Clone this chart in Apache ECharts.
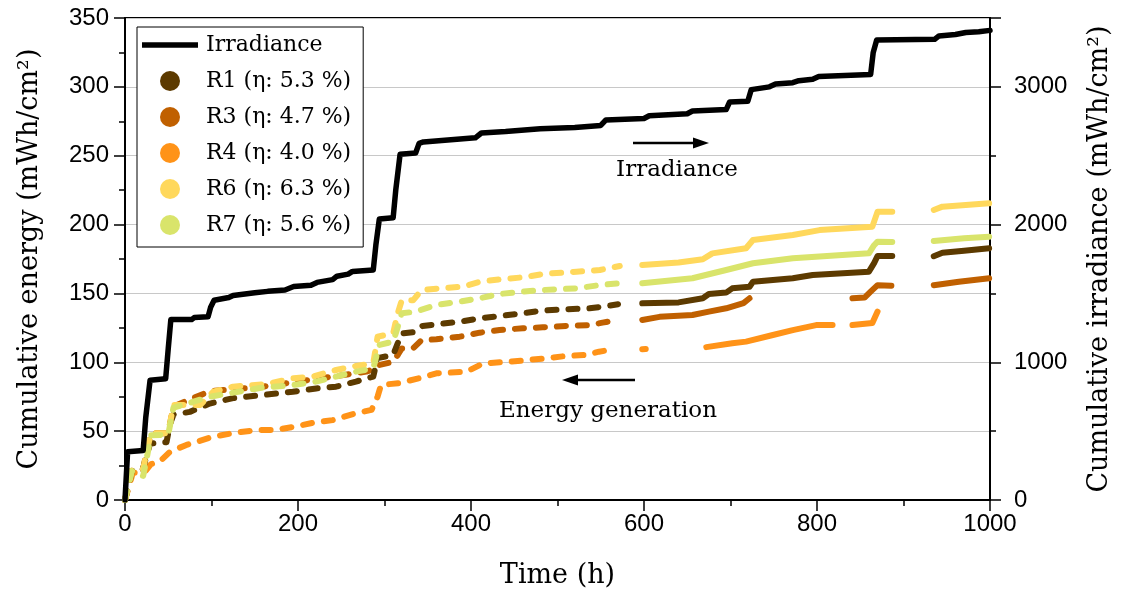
<!DOCTYPE html>
<html><head><meta charset="utf-8">
<script src="https://cdn.jsdelivr.net/npm/echarts@6/dist/echarts.min.js"></script>
<style>html,body{margin:0;padding:0;background:#fff}#c{width:1121px;height:600px}</style>
</head><body><div id="c"></div><script>
// ---------- DATA (time h, value) ; '-' marks a gap in the record ----------
const xTicks = [0, 200, 400, 600, 800, 1000];
const names = {
  irr: 'Irradiance',
  r1: 'R1 (η: 5.3 %)', r3: 'R3 (η: 4.7 %)', r4: 'R4 (η: 4.0 %)',
  r6: 'R6 (η: 6.3 %)', r7: 'R7 (η: 5.6 %)'
};
// cumulative irradiance, mWh/cm² (right axis)
const irradiance = [[0,0],[3,350],[21,360],[24,600],[29,870],[47,880],[50,1100],[53,1310],[77,1310],[80,1325],[96,1330],[99,1400],[103,1450],[120,1470],[125,1485],[150,1505],[165,1515],[185,1525],[195,1550],[215,1560],[222,1580],[240,1600],[245,1625],[258,1640],[263,1660],[287,1670],[290,1850],[294,2040],[310,2050],[313,2250],[318,2510],[336,2520],[340,2590],[345,2600],[405,2630],[412,2665],[440,2675],[480,2695],[520,2705],[550,2720],[556,2760],[600,2770],[606,2790],[650,2805],[656,2825],[695,2835],[699,2890],[720,2895],[724,2980],[745,3000],[752,3020],[772,3030],[779,3045],[795,3055],[802,3075],[862,3090],[865,3250],[869,3340],[936,3345],[941,3370],[960,3380],[972,3395],[987,3400],[1000,3410]];
// cumulative energy, mWh/cm² (left axis)
const r1 = [[0,0],[4,10],[8,21],[20,21],[24,30],[29,41],[48,42],[52,55],[56,62],[75,64],[98,70],[125,74],[156,76],[194,78.6],[221,81],[244,82.3],[267,86],[287,89.6],[292,103],[310,105.3],[316,115],[320,121],[335,122],[344,126.4],[364,127.8],[387,129.5],[410,131.9],[433,133.6],[460,135.6],[483,137.5],[510,138.5],[537,139.2],[552,140.4],[570,142.1],[585,'-'],[598,142.8],[640,143.5],[668,146.5],[675,149.6],[695,150.6],[702,153.7],[722,154.9],[726,158.5],[772,161],[795,163.4],[860,165.8],[866,172],[870,177.2],[887,177.2],[910,'-'],[935,177],[945,179.6],[970,181],[999,182.8]];
const r3 = [[0,0],[8,22],[21,22.5],[25,35],[30,48.5],[50,48.5],[56,68],[98,79],[156,82],[200,86],[267,92],[279,93.2],[287,95],[294,98],[310,100.4],[316,106],[320,110.1],[333,110.1],[343,116.2],[360,116.7],[387,118.6],[410,121.5],[433,123.4],[460,124.7],[483,125.4],[510,126.4],[537,127],[552,128.8],[571,130.7],[585,'-'],[598,130.7],[618,133],[656,134.3],[675,136.8],[695,139.2],[715,143],[722,146.5],[780,'-'],[841,146.5],[855,147],[862,151.3],[870,156],[886,155.6],[910,'-'],[935,156],[964,158.5],[999,161]];
const r4 = [[0,0],[9,19.6],[23,20.6],[30,26],[40,27.8],[52,35],[71,40],[102,46],[125,48.6],[152,50.8],[173,50.8],[194,53],[217,56],[240,58],[267,63],[285,65.4],[292,75],[296,83.5],[318,85],[341,88.6],[360,92],[395,93.2],[414,99.2],[445,100.4],[487,102.9],[510,104.6],[533,105.3],[548,107.7],[560,109],[585,'-'],[598,109.4],[602,109.6],[640,'-'],[672,111],[702,113.8],[718,115],[749,119.8],[772,123.4],[799,127],[818,127],[830,'-'],[841,127],[864,128.5],[870,136.8]];
const r6 = [[0,0],[8,22],[21,22.5],[25,35],[30,48.5],[50,48.5],[56,69],[87,69],[102,78.6],[125,82.3],[164,84.2],[194,88.4],[217,89.6],[244,94.4],[267,97.3],[287,99.2],[292,118.6],[310,121],[315,135],[320,145],[333,145],[343,152.5],[364,153.7],[391,155],[410,158.5],[433,160.2],[460,161.7],[483,164.1],[522,165.8],[549,167],[572,169.9],[585,'-'],[598,170.6],[640,172.5],[668,174.8],[679,179.1],[718,182.8],[726,188.8],[772,192.4],[803,196],[864,198.5],[870,209.4],[887,209.4],[910,'-'],[935,210.6],[945,213],[999,215.4]];
const r7 = [[0,0],[8,21],[15,18],[21,17.5],[25,30],[30,47],[50,47.5],[56,67],[98,75],[156,81.3],[194,83.5],[221,86],[244,89.6],[267,93.2],[287,95.6],[294,112.6],[310,115],[315,125],[320,135.6],[335,136.7],[360,141.6],[387,144],[410,146.5],[433,149.6],[460,151.3],[483,152.5],[522,153.7],[548,156],[572,157.4],[585,'-'],[598,157.4],[656,161],[695,167],[726,171.9],[772,175.5],[860,179.1],[866,185],[870,187.6],[887,187.4],[910,'-'],[935,188],[970,190],[999,191.2]];

// ---------- STYLE ----------
const colors = { r1:'#5c3a00', r3:'#c06000', r4:'#ff9318', r6:'#ffd85c', r7:'#d9e46b' };
const DASH_END = 585; // record before this time is drawn as the dotted/dashed daily segments
const SANS = 'Liberation Sans', SERIF = 'DejaVu Serif';

function part(arr, early) {
  return arr.filter(p => early ? p[0] <= DASH_END : p[0] >= DASH_END);
}
function rSeries(key, arr) {
  const base = { type:'line', name:names[key], showSymbol:false, symbol:'circle', silent:true,
    color: colors[key], animation:false };
  return [
    Object.assign({}, base, { data: part(arr, true),
      lineStyle:{ color:colors[key], width:6, type:[9,12], cap:'round', join:'round' } }),
    Object.assign({}, base, { data: part(arr, false),
      lineStyle:{ color:colors[key], width:6, cap:'round', join:'round' } })
  ];
}

const chart = echarts.init(document.getElementById('c'), null, { renderer:'canvas' });
const option = {
  animation:false,
  backgroundColor:'#fff',
  grid:{ left:125, right:130, top:18, bottom:100, show:true, borderColor:'#000', borderWidth:2, backgroundColor:'transparent' },
  legend:{
    left:137, top:27, orient:'vertical',
    backgroundColor:'#fff', borderColor:'#000', borderWidth:1,
    padding:[7,12,11,5], itemGap:14, itemWidth:56, itemHeight:20,
    textStyle:{ fontFamily:SERIF, fontSize:22, color:'#000', lineHeight:20, padding:[0,0,0,3] },
    data:[
      { name:names.irr, icon:'path://M0,0L56,0L56,5.5L0,5.5Z' },
      { name:names.r1, icon:'circle' }, { name:names.r3, icon:'circle' },
      { name:names.r4, icon:'circle' }, { name:names.r6, icon:'circle' },
      { name:names.r7, icon:'circle' }
    ]
  },
  xAxis:{
    type:'value', min:0, max:1000, interval:200,
    name:'Time (h)', nameLocation:'middle', nameGap:62,
    nameTextStyle:{ fontFamily:SERIF, fontSize:27, color:'#000' },
    axisLine:{ lineStyle:{ color:'#000', width:2 } },
    axisTick:{ length:11, lineStyle:{ color:'#000', width:1.5 } },
    minorTick:{ show:true, splitNumber:2, length:6, lineStyle:{ color:'#000', width:1.5 } },
    axisLabel:{ fontFamily:SANS, fontSize:24, color:'#000', margin:12, formatter: v => String(v) },
    splitLine:{ show:false }
  },
  yAxis:[{
    type:'value', min:0, max:350, interval:50,
    name:'Cumulative energy (mWh/cm²)', nameLocation:'middle', nameGap:82,
    nameTextStyle:{ fontFamily:SERIF, fontSize:27, color:'#000' },
    axisLine:{ show:true, lineStyle:{ color:'#000', width:2 } },
    axisTick:{ show:true, length:11, lineStyle:{ color:'#000', width:1.5 } },
    minorTick:{ show:true, splitNumber:2, length:6, lineStyle:{ color:'#000', width:1.5 } },
    axisLabel:{ fontFamily:SANS, fontSize:24, color:'#000', margin:16, formatter: v => String(v) },
    splitLine:{ show:true, lineStyle:{ color:'#c8c8c8', width:1.2 } }
  },{
    type:'value', min:0, max:3500, interval:1000, position:'right',
    name:'Cumulative irradiance (mWh/cm²)', nameLocation:'middle', nameGap:96,
    nameTextStyle:{ fontFamily:SERIF, fontSize:27, color:'#000' },
    axisLine:{ show:true, lineStyle:{ color:'#000', width:2 } },
    axisTick:{ show:true, length:11, lineStyle:{ color:'#000', width:1.5 } },
    minorTick:{ show:true, splitNumber:2, length:6, lineStyle:{ color:'#000', width:1.5 } },
    axisLabel:{ fontFamily:SANS, fontSize:24, color:'#000', margin:24, showMaxLabel:false,
      formatter: v => (v % 1000 === 0 ? String(v) : '') },
    splitLine:{ show:false }
  }],
  graphic:[
    { type:'line', shape:{ x1:633, y1:143, x2:697, y2:143 }, style:{ stroke:'#000', lineWidth:2.5 } },
    { type:'polygon', shape:{ points:[[709,143],[693,137.5],[693,148.5]] }, style:{ fill:'#000' } },
    { type:'text', x:677, y:170, style:{ text:'Irradiance', font:'23px "DejaVu Serif"', fill:'#000', align:'center', verticalAlign:'middle' } },
    { type:'line', shape:{ x1:574, y1:380, x2:635, y2:380 }, style:{ stroke:'#000', lineWidth:2.5 } },
    { type:'polygon', shape:{ points:[[562,380],[578,374.5],[578,385.5]] }, style:{ fill:'#000' } },
    { type:'text', x:608, y:411, style:{ text:'Energy generation', font:'23px "DejaVu Serif"', fill:'#000', align:'center', verticalAlign:'middle' } }
  ],
  series:[].concat(
    rSeries('r4', r4), rSeries('r3', r3), rSeries('r1', r1), rSeries('r6', r6), rSeries('r7', r7),
    [{ type:'line', name:names.irr, yAxisIndex:1, data:irradiance, showSymbol:false, silent:true,
       color:'#000', lineStyle:{ color:'#000', width:5.5, join:'round', cap:'round' } }]
  )
};
chart.setOption(option);
</script></body></html>
